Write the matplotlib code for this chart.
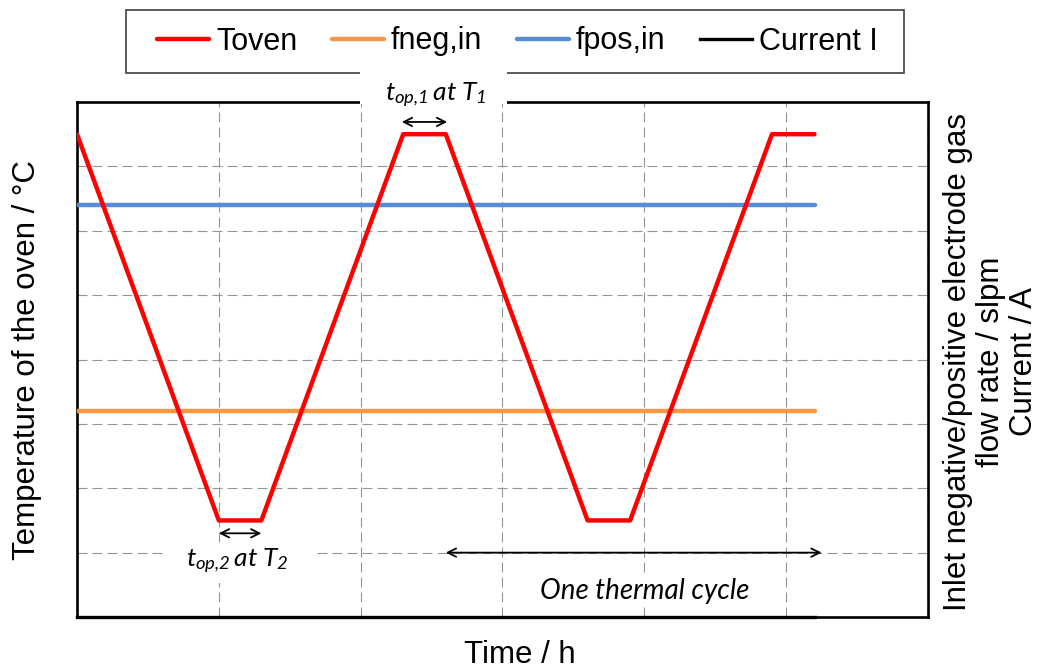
import matplotlib
matplotlib.use("Agg")
import matplotlib.pyplot as plt
from matplotlib.patches import Rectangle
import matplotlib.transforms as mtransforms

# Data (schematic; axes 0..6 h by 0..8 units)
time_h = [0, 1.0, 1.3, 2.3, 2.6, 3.6, 3.9, 4.9, 5.2]
t_oven = [7.5, 1.5, 1.5, 7.5, 7.5, 1.5, 1.5, 7.5, 7.5]
flow_time = [0, 5.2]
f_neg = [3.2, 3.2]
f_pos = [6.4, 6.4]
current = [0.0, 0.0]

series_names = ["Toven", "fneg,in", "fpos,in", "Current I"]
series_colors = ["#FF0000", "#F79646", "#558ED5", "#000000"]

# annotation positions (x in h, y in axis units)
top_arrow = (2.29, 2.61, 7.69)
low_arrow = (1.0, 1.3, 1.30)
cycle_arrow = (2.6, 5.25, 1.0)

plt.rcParams['font.family'] = ['Liberation Sans', 'DejaVu Sans']
plt.rcParams['mathtext.fontset'] = 'custom'
plt.rcParams['mathtext.it'] = 'Lato:italic'
plt.rcParams['mathtext.rm'] = 'Lato:italic'

fig = plt.figure(figsize=(10.51, 6.68), dpi=100)
ax = fig.add_axes([77/1051, 51/668, 851/1051, 515/668])

lw = 3.2
ax.plot(time_h, t_oven, color=series_colors[0], lw=lw, label=series_names[0],
        solid_capstyle='round', zorder=4)
ax.plot(flow_time, f_neg, color=series_colors[1], lw=lw, label=series_names[1],
        solid_capstyle='round', zorder=3)
ax.plot(flow_time, f_pos, color=series_colors[2], lw=lw, label=series_names[2],
        solid_capstyle='round', zorder=3)
ax.plot(flow_time, current, color=series_colors[3], lw=2.4, label=series_names[3],
        clip_on=False, zorder=3)

ax.set_xlim(0, 6)
ax.set_ylim(0, 8)
ax.set_xticks(range(7))
ax.set_yticks(range(9))
ax.tick_params(length=0, labelbottom=False, labelleft=False)
ax.grid(True, color='#959595', lw=0.8, linestyle=(0, (9, 4.5)))
for s in ax.spines.values():
    s.set_linewidth(1.9)
    s.set_color('black')

# arrows
arrow_kw = dict(arrowstyle='<->', color='black', lw=1.3, mutation_scale=15,
                shrinkA=0, shrinkB=0)
for x0, x1, y in [top_arrow, low_arrow, cycle_arrow]:
    ax.annotate('', xy=(x1, y), xytext=(x0, y), arrowprops=arrow_kw, zorder=6)

# legend: entries spread over the box, frame drawn separately
leg = ax.legend(loc='center', ncol=4,
                bbox_to_anchor=(145/1051, 1-73/668, 745/1051, 63/668),
                bbox_transform=fig.transFigure, mode='expand', fontsize=22,
                frameon=False, handlelength=1.7, handletextpad=0.22,
                columnspacing=1.0, borderpad=0.4, borderaxespad=0)
leg.set_zorder(7)
ax.add_patch(Rectangle((126/1051, 1-73/668), 778/1051, 63/668,
                       transform=fig.transFigure, fc='none', ec='#404040',
                       lw=1.2, clip_on=False, zorder=6))

# white patches behind the two t_op labels
blend = mtransforms.blended_transform_factory(ax.transData, ax.transAxes)
ax.add_patch(Rectangle((1.995, 0.996), 1.04, 0.07, transform=blend,
                       fc='white', ec='none', clip_on=False, zorder=8))
ax.add_patch(Rectangle((0.635, 0.53), 1.03, 0.62, fc='white', ec='none', zorder=2.2))

ax.text(2.53, 8.1, r"$t_{op{,}1}\,at\;T_{1}$", ha='center', va='center',
        fontsize=19, zorder=9, clip_on=False)
ax.text(1.13, 0.86, r"$t_{op{,}2}\,at\;T_{2}$", ha='center', va='center',
        fontsize=19, zorder=9)
ax.text(4.0, 0.40, "One thermal cycle", ha='center', va='center', fontsize=20,
        family='Lato', style='italic', zorder=9,
        bbox=dict(fc='white', ec='none', pad=1))

fig.text(27.5/1051, 1-360/668, "Temperature of the oven / °C", rotation=90,
         ha='center', va='center', fontsize=22.5)
fig.text(520/1051, 1-663/668, "Time / h", ha='center', va='baseline', fontsize=22.5)
fig.text(991/1051, 1-362/668,
         "Inlet negative/positive electrode gas\nflow rate / slpm\nCurrent / A",
         rotation=90, ha='center', va='center', multialignment='center',
         fontsize=22.5, linespacing=1.15)

fig.savefig("out.png", dpi=100)
